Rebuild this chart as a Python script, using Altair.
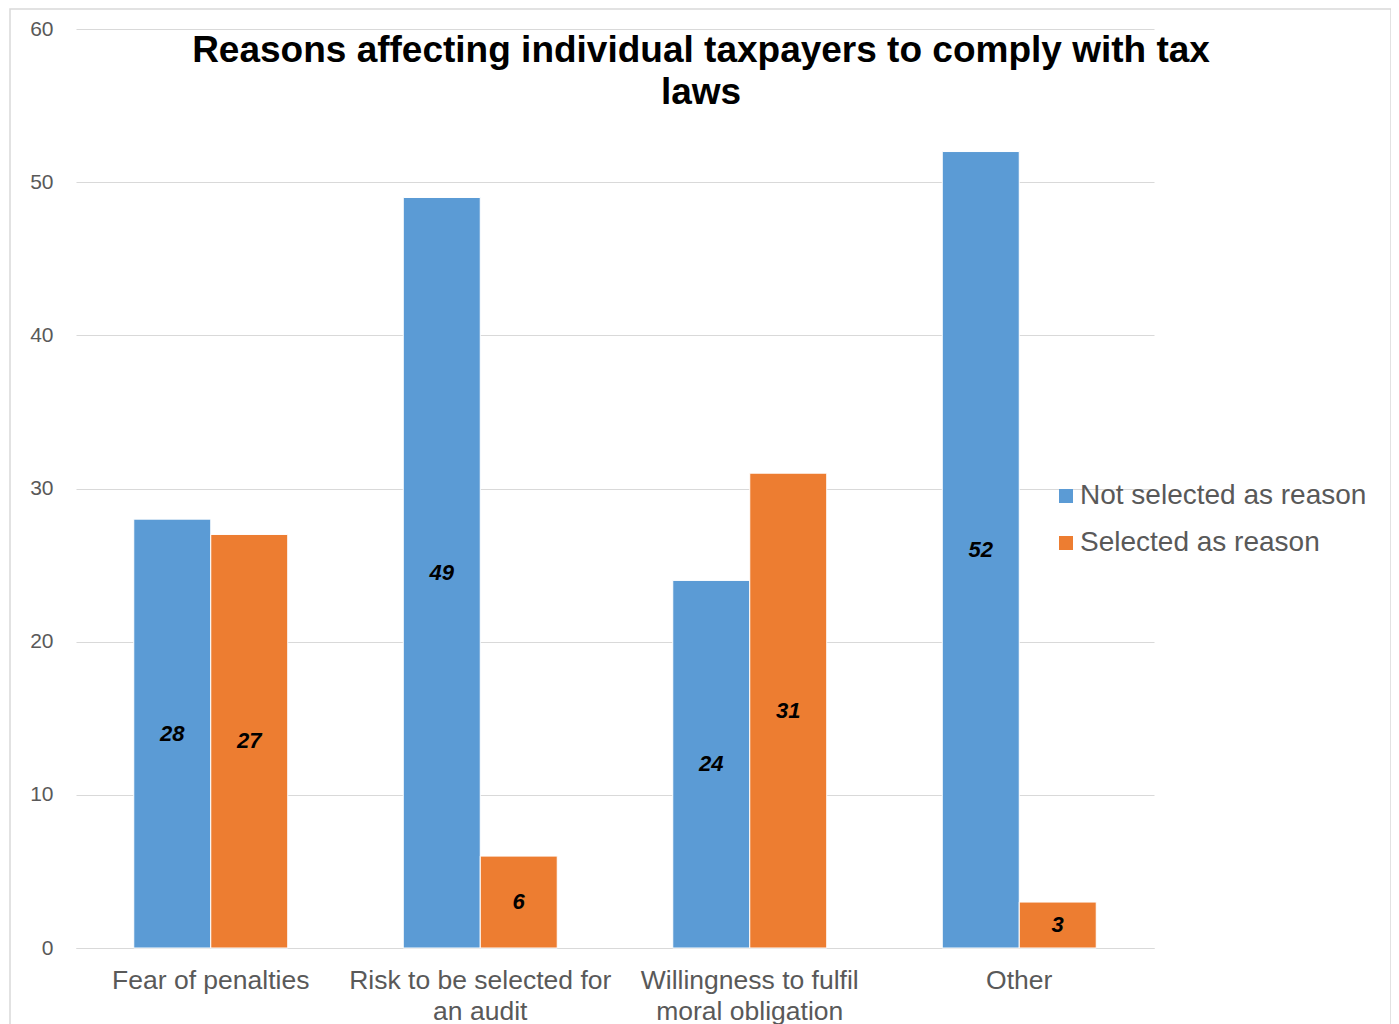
import altair as alt
import pandas as pd

categories = ["Fear of penalties", "Risk to be selected for an audit",
              "Willingness to fulfil moral obligation", "Other"]
category_lines = [["Fear of penalties"], ["Risk to be selected for", "an audit"],
                  ["Willingness to fulfil", "moral obligation"], ["Other"]]
series = ["Not selected as reason", "Selected as reason"]
not_selected = [28, 49, 24, 52]
selected = [27, 6, 31, 3]
colors = ["#5B9BD5", "#ED7D31"]
title_lines = ["Reasons affecting individual taxpayers to comply with tax", "laws"]
y_ticks = [0, 10, 20, 30, 40, 50, 60]

rows = []
for c, a, b in zip(categories, not_selected, selected):
    rows.append({"category": c, "series": series[0], "value": a, "mid": a / 2})
    rows.append({"category": c, "series": series[1], "value": b, "mid": b / 2})
df = pd.DataFrame(rows)

label_expr = ""
for c, lines in zip(categories, category_lines):
    arr = "[" + ",".join("'" + l + "'" for l in lines) + "]"
    label_expr += f"datum.value == '{c}' ? {arr} : "
label_expr += "datum.label"

FONT = "Liberation Sans"

x_enc = alt.X("category:N", sort=categories, title=None,
              scale=alt.Scale(paddingInner=0.4286, paddingOuter=0.2143),
              axis=alt.Axis(labelExpr=label_expr, labelAngle=0, labelFontSize=26.5,
                            labelColor="#595959", labelFont=FONT, labelPadding=19,
                            labelLineHeight=31, ticks=False, domainColor="#d9d9d9",
                            domainWidth=1, labelLimit=400))
xo_enc = alt.XOffset("series:N", sort=series, scale=alt.Scale(paddingInner=0, paddingOuter=0))

base = alt.Chart(df)

bars = base.mark_bar(stroke="white", strokeWidth=1).encode(
    x=x_enc,
    xOffset=xo_enc,
    y=alt.Y("value:Q", title=None,
            scale=alt.Scale(domain=[0, 60], nice=False),
            axis=alt.Axis(values=y_ticks, domain=False, ticks=False, labelFontSize=21,
                          labelColor="#595959", labelFont=FONT, labelPadding=23,
                          gridColor="#d9d9d9", gridWidth=1)),
    color=alt.Color("series:N", sort=series, title=None,
                    scale=alt.Scale(domain=series, range=colors),
                    legend=alt.Legend(orient="none", legendX=976, legendY=453,
                                      symbolType="square", symbolSize=196,
                                      symbolStrokeWidth=0, symbolOpacity=1,
                                      labelFontSize=28, labelColor="#595959",
                                      labelFont=FONT, labelOffset=0, rowPadding=19,
                                      labelLimit=400)),
)

labels = base.mark_text(fontStyle="italic", fontWeight="bold", fontSize=22,
                        color="black", font=FONT).encode(
    x=alt.X("category:N", sort=categories),
    xOffset=xo_enc,
    y=alt.Y("mid:Q"),
    text=alt.Text("value:Q"),
)

tdf = pd.DataFrame({"line": title_lines, "ypos": [33, 75]})
title = alt.Chart(tdf).mark_text(fontSize=37, fontWeight="bold", font=FONT,
                                 color="black", align="center",
                                 baseline="alphabetic").encode(
    x=alt.value(625),
    y=alt.Y("ypos:Q", scale=None),
    text="line:N",
)

border = alt.Chart(pd.DataFrame({"a": [0]})).mark_rect(
    fill=None, stroke="#d9d9d9", strokeWidth=1.5).encode(
    x=alt.value(-66), x2=alt.value(1315), y=alt.value(-20), y2=alt.value(1100))

chart = alt.layer(border, bars, labels, title).properties(
    width=1078, height=919,
    autosize=alt.AutoSizeParams(type="none"),
    padding={"left": 68, "top": 21, "right": 237, "bottom": 76},
).configure_view(stroke=None).configure_axis(grid=True)
chart = chart.configure_axisX(grid=False)

chart.save("out.html", embed_options={"renderer": "svg", "actions": False})
